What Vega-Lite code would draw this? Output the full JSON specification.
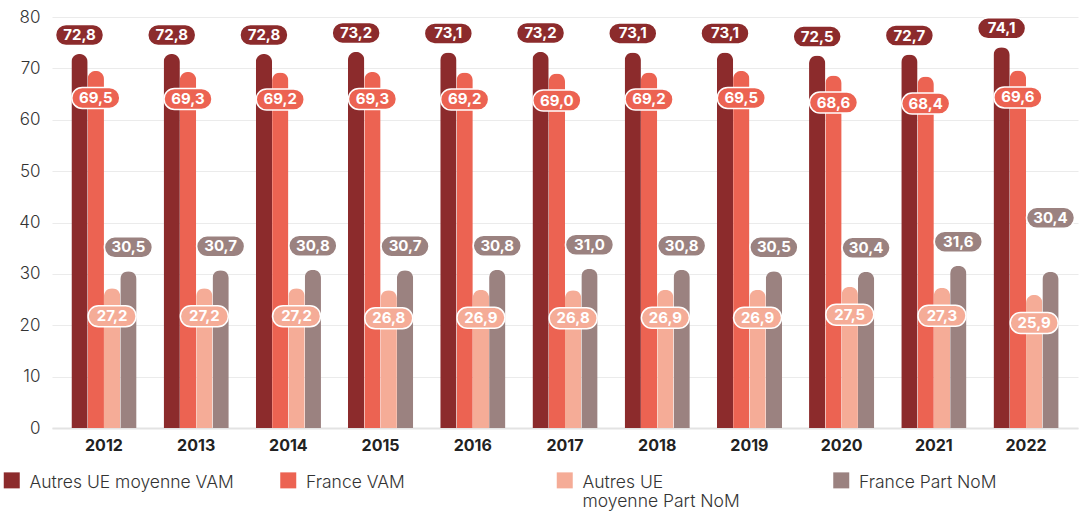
{
  "$schema": "https://vega.github.io/schema/vega-lite/v6.json",
  "width": 1026,
  "height": 411,
  "autosize": {"type": "none"},
  "padding": {"left": 52, "top": 17, "right": 5, "bottom": 87},
  "config": {
    "locale": {"number": {"decimal": ",", "thousands": " ", "grouping": [3], "currency": ["", " €"]}},
    "view": {"stroke": null},
    "font": "Inter"
  },
  "data": {
    "values": [
      {"year": "2012", "series": "Autres UE moyenne VAM", "value": 72.8},
      {"year": "2012", "series": "France VAM", "value": 69.5},
      {"year": "2012", "series": "Autres UE moyenne Part NoM", "value": 27.2},
      {"year": "2012", "series": "France Part NoM", "value": 30.5},
      {"year": "2013", "series": "Autres UE moyenne VAM", "value": 72.8},
      {"year": "2013", "series": "France VAM", "value": 69.3},
      {"year": "2013", "series": "Autres UE moyenne Part NoM", "value": 27.2},
      {"year": "2013", "series": "France Part NoM", "value": 30.7},
      {"year": "2014", "series": "Autres UE moyenne VAM", "value": 72.8},
      {"year": "2014", "series": "France VAM", "value": 69.2},
      {"year": "2014", "series": "Autres UE moyenne Part NoM", "value": 27.2},
      {"year": "2014", "series": "France Part NoM", "value": 30.8},
      {"year": "2015", "series": "Autres UE moyenne VAM", "value": 73.2},
      {"year": "2015", "series": "France VAM", "value": 69.3},
      {"year": "2015", "series": "Autres UE moyenne Part NoM", "value": 26.8},
      {"year": "2015", "series": "France Part NoM", "value": 30.7},
      {"year": "2016", "series": "Autres UE moyenne VAM", "value": 73.1},
      {"year": "2016", "series": "France VAM", "value": 69.2},
      {"year": "2016", "series": "Autres UE moyenne Part NoM", "value": 26.9},
      {"year": "2016", "series": "France Part NoM", "value": 30.8},
      {"year": "2017", "series": "Autres UE moyenne VAM", "value": 73.2},
      {"year": "2017", "series": "France VAM", "value": 69.0},
      {"year": "2017", "series": "Autres UE moyenne Part NoM", "value": 26.8},
      {"year": "2017", "series": "France Part NoM", "value": 31.0},
      {"year": "2018", "series": "Autres UE moyenne VAM", "value": 73.1},
      {"year": "2018", "series": "France VAM", "value": 69.2},
      {"year": "2018", "series": "Autres UE moyenne Part NoM", "value": 26.9},
      {"year": "2018", "series": "France Part NoM", "value": 30.8},
      {"year": "2019", "series": "Autres UE moyenne VAM", "value": 73.1},
      {"year": "2019", "series": "France VAM", "value": 69.5},
      {"year": "2019", "series": "Autres UE moyenne Part NoM", "value": 26.9},
      {"year": "2019", "series": "France Part NoM", "value": 30.5},
      {"year": "2020", "series": "Autres UE moyenne VAM", "value": 72.5},
      {"year": "2020", "series": "France VAM", "value": 68.6},
      {"year": "2020", "series": "Autres UE moyenne Part NoM", "value": 27.5},
      {"year": "2020", "series": "France Part NoM", "value": 30.4},
      {"year": "2021", "series": "Autres UE moyenne VAM", "value": 72.7},
      {"year": "2021", "series": "France VAM", "value": 68.4},
      {"year": "2021", "series": "Autres UE moyenne Part NoM", "value": 27.3},
      {"year": "2021", "series": "France Part NoM", "value": 31.6},
      {"year": "2022", "series": "Autres UE moyenne VAM", "value": 74.1},
      {"year": "2022", "series": "France VAM", "value": 69.6},
      {"year": "2022", "series": "Autres UE moyenne Part NoM", "value": 25.9},
      {"year": "2022", "series": "France Part NoM", "value": 30.4}
    ]
  },
  "encoding": {
    "x": {
      "field": "year",
      "type": "nominal",
      "scale": {"paddingInner": 0.293, "paddingOuter": 0.21},
      "axis": {
        "title": null,
        "labelAngle": 0,
        "labelFontSize": 16,
        "labelFontWeight": "bold",
        "labelColor": "#222222",
        "labelPadding": 9,
        "ticks": false,
        "domainColor": "#e3e3e3",
        "domainWidth": 2
      }
    },
    "xOffset": {
      "field": "series",
      "type": "nominal",
      "sort": ["Autres UE moyenne VAM", "France VAM", "Autres UE moyenne Part NoM", "France Part NoM"],
      "scale": {"paddingInner": 0, "paddingOuter": 0}
    },
    "y": {
      "field": "value",
      "type": "quantitative",
      "scale": {"domain": [0, 80]},
      "axis": {
        "title": null,
        "values": [0, 10, 20, 30, 40, 50, 60, 70, 80],
        "domain": false,
        "ticks": false,
        "labelFontSize": 17,
        "labelFontWeight": 300,
        "labelColor": "#333333",
        "labelPadding": 12,
        "gridColor": "#ebebeb"
      }
    }
  },
  "layer": [
    {
      "mark": {"type": "bar", "cornerRadiusTopLeft": 8, "cornerRadiusTopRight": 8},
      "encoding": {
        "color": {
          "field": "series",
          "type": "nominal",
          "sort": ["Autres UE moyenne VAM", "France VAM", "Autres UE moyenne Part NoM", "France Part NoM"],
          "scale": {
            "domain": ["Autres UE moyenne VAM", "France VAM", "Autres UE moyenne Part NoM", "France Part NoM"],
            "range": ["#8C2B2C", "#EC6352", "#F5AC97", "#9B8280"]
          },
          "legend": {
            "title": null,
            "orient": "none",
            "legendX": -49,
            "legendY": 457,
            "direction": "horizontal",
            "columns": 4,
            "gridAlign": "all",
            "columnPadding": 45.5,
            "padding": 0,
            "symbolType": "M -1 -1.3125 L 1 -1.3125 L 1 0.6875 L -1 0.6875 Z",
            "symbolSize": 256,
            "symbolStrokeWidth": 0,
            "labelFontSize": 17.5,
            "labelFontWeight": 300,
            "labelColor": "#333333",
            "labelOffset": 9,
            "labelLimit": 400,
            "labelLineHeight": 22,
            "labelExpr": "datum.label == 'Autres UE moyenne Part NoM' ? ['Autres UE', 'moyenne Part NoM'] : [datum.label, '']"
          }
        }
      }
    },
    {
      "mark": {
        "type": "point",
        "shape": "M -0.5625 -0.4375 L 0.5625 -0.4375 A 0.4375 0.4375 0 0 1 0.5625 0.4375 L -0.5625 0.4375 A 0.4375 0.4375 0 0 1 -0.5625 -0.4375 Z",
        "size": 2304,
        "filled": true,
        "opacity": 1,
        "stroke": "white",
        "strokeWidth": 1.5,
        "yOffset": {"expr": "datum.series == 'Autres UE moyenne VAM' ? -19 : datum.series == 'France VAM' ? 27 : datum.series == 'Autres UE moyenne Part NoM' ? 28 : (datum.year == '2022' ? -54 : -24)"}
      },
      "encoding": {
        "fill": {
          "field": "series",
          "type": "nominal",
          "scale": {
            "domain": ["Autres UE moyenne VAM", "France VAM", "Autres UE moyenne Part NoM", "France Part NoM"],
            "range": ["#8C2B2C", "#EC6352", "#F5AC97", "#9B8280"]
          },
          "legend": null
        }
      }
    },
    {
      "mark": {
        "type": "text",
        "color": "white",
        "fontSize": 15,
        "fontWeight": "bold",
        "baseline": "middle",
        "align": "center",
        "yOffset": {"expr": "datum.series == 'Autres UE moyenne VAM' ? -19 : datum.series == 'France VAM' ? 27 : datum.series == 'Autres UE moyenne Part NoM' ? 28 : (datum.year == '2022' ? -54 : -24)"}
      },
      "encoding": {
        "text": {"field": "value", "type": "quantitative", "format": ".1f"}
      }
    }
  ]
}
